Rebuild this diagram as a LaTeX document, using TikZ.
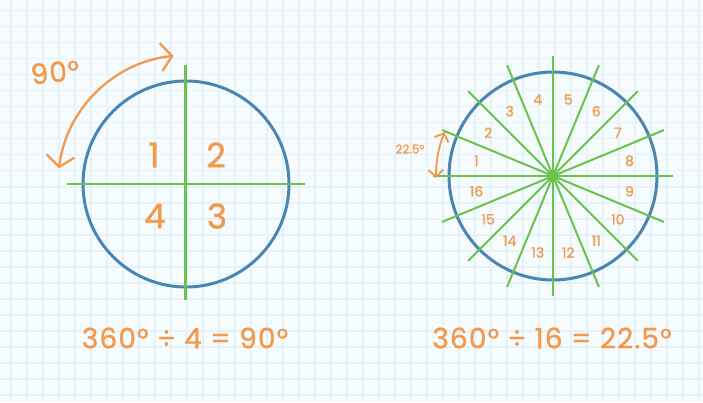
\documentclass[tikz,border=0pt]{standalone}
\usepackage{fontspec}
\setmainfont{Poppins}
\newfontfamily\hand{Poppins}[FakeBold=1.0, LetterSpace=4]
\newfontfamily\handnum{Poppins}[FakeBold=1.0]
\usetikzlibrary{arrows.meta}
\definecolor{bg}{HTML}{F6FBFE}
\definecolor{gridc}{HTML}{E5F2FA}
\definecolor{cblue}{HTML}{4A86B2}
\definecolor{cgreen}{HTML}{6CC24A}
\definecolor{corange}{HTML}{F2994C}
\tikzset{
  ring/.style={draw=cblue, line width=3pt, circle, inner sep=0pt},
  spoke/.style={draw=cgreen, line width=2pt},
  bignum/.style={text=corange, font=\handnum\fontsize{34}{34}\selectfont},
  smallnum/.style={text=corange, font=\handnum\fontsize{14}{14}\selectfont},
  eqtext/.style={text=corange, font=\hand\fontsize{28}{28}\selectfont},
  arc arrow/.style={draw=corange, line width=2.3pt, line cap=round},
}
\begin{document}
\begin{tikzpicture}[x=1pt,y=1pt]
\fill[bg] (0,0) rectangle (703,402);
\useasboundingbox (0,0) rectangle (703,402);
% grid
\foreach \i in {0,...,43} {\draw[gridc, line width=1.6pt] ({10.7+16*\i},0) -- ({10.7+16*\i},402);}
\foreach \j in {0,...,25} {\draw[gridc, line width=1.6pt] (0,{402-10.7-16*\j}) -- (703,{402-10.7-16*\j});}

% ---------- left circle ----------
\coordinate (L) at (186,218);
\node[ring, minimum size=206pt] (c1) at (L) {};
\coordinate (lt) at (185.5,337);
\coordinate (lb) at (185.5,102);
\coordinate (ll) at (67,218);
\coordinate (lr) at (305,218);
\draw[spoke, line width=2.4pt] (lt) -- (lb);
\draw[spoke, line width=2.4pt] (ll) -- (lr);
\node[bignum] (q1) at (154,247) {1};
\node[bignum] (q2) at (216,247) {2};
\node[bignum] (q4) at (155,186) {4};
\node[bignum] (q3) at (217,186) {3};
\draw[arc arrow, arrows={Straight Barb[length=11pt,width=28pt,line width=2.3pt]-Straight Barb[length=11pt,width=28pt,line width=2.3pt]}]
  ([shift={(173:128)}]L) arc[start angle=173, end angle=96, radius=129];
\node[eqtext, rotate=6] (deg90) at (55,330) {90°};
\node[eqtext] (eq1) at (185,64) {360° ÷ 4 = 90°};

% ---------- right circle ----------
\coordinate (R) at (553,226);
\node[ring, minimum size=208pt] (c2) at (R) {};
\foreach \a in {0,22.5,...,157.5} {
  \draw[spoke] ([shift={(\a:120)}]R) -- ([shift={(\a+180:120)}]R);
}
\fill[cgreen] (R) circle (5);
\foreach \k in {1,...,16} {
  \node[smallnum] (s\k) at ([shift={({191.25-22.5*\k}:78)}]R) {\k};
}
\draw[arc arrow, line width=1.8pt, arrows={Straight Barb[length=7pt,width=15pt,line width=1.8pt]-Straight Barb[length=7pt,width=15pt,line width=1.8pt]}]
  ([shift={(181:117)}]R) arc[start angle=181, end angle=158, radius=117];
\node[smallnum, font=\handnum\fontsize{12}{12}\selectfont] (deg22) at (410,253) {22.5°};
\node[eqtext] (eq2) at (552,64) {360° ÷ 16 = 22.5°};
\end{tikzpicture}
\end{document}
